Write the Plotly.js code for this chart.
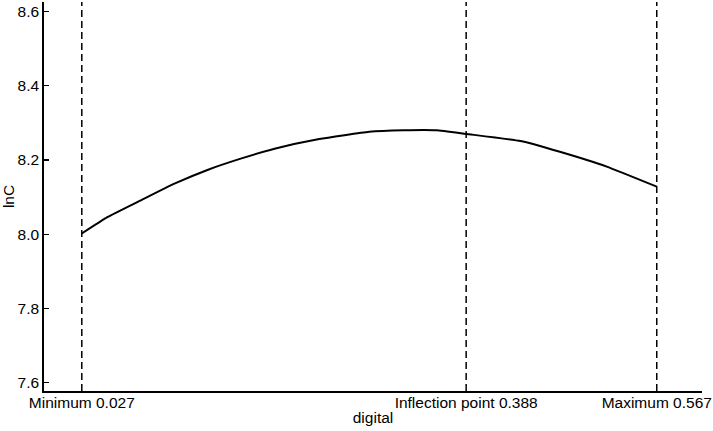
<!DOCTYPE html>
<html>
<head>
<meta charset="utf-8">
<script src="https://cdn.plot.ly/plotly-3.0.1.min.js"></script>
<style>html,body{margin:0;padding:0;background:#fff;}#chart{width:713px;height:431px;}</style>
</head>
<body>
<div id="chart"></div>
<script>
// Curve: lnC against digital
const digital = [0.027, 0.051, 0.083, 0.114, 0.145, 0.177, 0.208, 0.250, 0.297, 0.329, 0.360, 0.388, 0.439, 0.476, 0.520, 0.567];
const lnC = [8.002, 8.046, 8.092, 8.136, 8.173, 8.204, 8.230, 8.256, 8.276, 8.280, 8.280, 8.270, 8.251, 8.222, 8.182, 8.128];

// Reference points (dashed vertical lines) and their labels
const refX = [0.027, 0.388, 0.567];
const refLabels = ["Minimum 0.027", "Inflection point 0.388", "Maximum 0.567"];

// Y-axis ticks
const yTicks = [7.6, 7.8, 8.0, 8.2, 8.4, 8.6];

const font = {family: "Liberation Sans, Arial, sans-serif", size: 15.5, color: "#000"};

const traces = [{
  x: digital, y: lnC, type: "scatter", mode: "lines",
  line: {color: "#000", width: 2, shape: "spline", smoothing: 0.4},
  hoverinfo: "skip", showlegend: false
}];

const shapes = refX.map(v => ({
  type: "line", xref: "x", yref: "paper", x0: v, x1: v, y0: 0, y1: 1,
  line: {color: "#000", width: 1.5, dash: "7px,4px"}
}));

const layout = {
  width: 713, height: 431,
  margin: {l: 44, r: 11, t: 2, b: 40, pad: 0},
  paper_bgcolor: "#fff", plot_bgcolor: "#fff",
  font: font,
  showlegend: false,
  shapes: shapes,
  xaxis: {
    range: [-0.0085, 0.6095],
    tickvals: refX, ticktext: refLabels,
    ticks: "", showgrid: false, zeroline: false,
    showline: true, linecolor: "#000", linewidth: 1.8,
    tickfont: font, ticklabelstandoff: -3,
    title: {text: "digital", font: font, standoff: 2}
  },
  yaxis: {
    range: [7.578, 8.625],
    tickvals: yTicks, tickformat: ".1f",
    ticks: "inside", ticklen: 5, tickwidth: 1.2, tickcolor: "#000",
    showgrid: false, zeroline: false,
    showline: true, linecolor: "#000", linewidth: 1.8,
    tickfont: font,
    title: {text: "lnC", font: font, standoff: 4}
  }
};

Plotly.newPlot("chart", traces, layout, {staticPlot: true, displayModeBar: false});
</script>
</body>
</html>
